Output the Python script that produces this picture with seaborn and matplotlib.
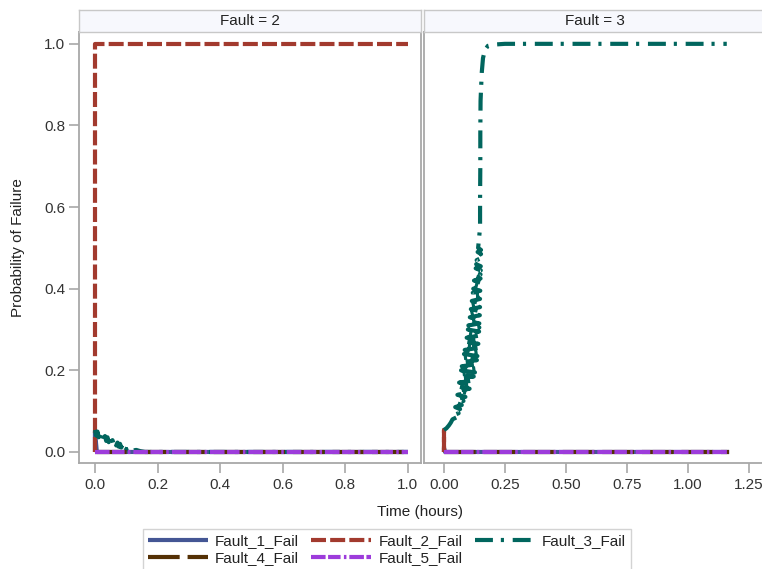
import numpy as np
import pandas as pd
import matplotlib
matplotlib.use("Agg")
import matplotlib.pyplot as plt
import seaborn as sns
from matplotlib.lines import Line2D

# ---------------- data ----------------
panels = [2, 3]
events = ["Fault_1_Fail", "Fault_2_Fail", "Fault_3_Fail", "Fault_4_Fail", "Fault_5_Fail"]

# Fault = 2 panel
p2_f1_t = [0.0, 0.0, 0.006, 1.0]
p2_f1_p = [0.0, 0.05, 0.0, 0.0]
p2_f2_t = [0.0, 0.0, 1.0]
p2_f2_p = [0.0, 1.0, 1.0]
p2_f3_t = [0.000, 0.004, 0.008, 0.012, 0.016, 0.020, 0.024, 0.028, 0.032, 0.036, 0.040,
           0.044, 0.048, 0.052, 0.056, 0.060, 0.064, 0.068, 0.072, 0.076, 0.080, 0.084,
           0.088, 0.092, 0.096, 0.100, 0.104, 0.110, 0.116, 0.124, 0.132, 0.145, 0.160, 1.0]
p2_f3_p = [0.054, 0.040, 0.050, 0.036, 0.046, 0.033, 0.042, 0.030, 0.039, 0.027, 0.036,
           0.024, 0.032, 0.021, 0.029, 0.018, 0.026, 0.016, 0.023, 0.013, 0.020, 0.011,
           0.017, 0.009, 0.014, 0.007, 0.011, 0.005, 0.008, 0.004, 0.005, 0.002, 0.0, 0.0]
p2_f4_t = [0.0, 1.0]
p2_f4_p = [0.0, 0.0]
p2_f5_t = [0.0, 1.0]
p2_f5_p = [0.0, 0.0]

# Fault = 3 panel
p3_f1_t = [0.0, 0.0, 0.004, 1.17]
p3_f1_p = [0.0, 0.01, 0.0, 0.0]
p3_f2_t = [0.0, 0.0, 0.002, 0.002]
p3_f2_p = [0.0, 0.054, 0.054, 0.0]
p3_f3_t = [0.000, 0.010, 0.020, 0.028,
           0.035, 0.052, 0.038, 0.060, 0.042, 0.066, 0.046, 0.073, 0.050, 0.080,
           0.052, 0.088, 0.055, 0.097, 0.058, 0.105, 0.060, 0.112, 0.062, 0.118,
           0.065, 0.122, 0.067, 0.127, 0.070, 0.130, 0.073, 0.133, 0.076, 0.135,
           0.079, 0.137, 0.082, 0.139, 0.085, 0.140, 0.088, 0.141, 0.090, 0.142,
           0.093, 0.143, 0.096, 0.144, 0.098, 0.145, 0.100, 0.145, 0.103, 0.146,
           0.106, 0.147, 0.108, 0.147, 0.110, 0.148, 0.112, 0.148, 0.114, 0.148,
           0.116, 0.149, 0.118, 0.149, 0.120, 0.150, 0.122, 0.150, 0.123, 0.150,
           0.125, 0.150, 0.128, 0.151, 0.130, 0.151, 0.132, 0.151, 0.134, 0.152,
           0.136, 0.152, 0.138, 0.152, 0.140,
           0.148, 0.148, 0.149, 0.149, 0.150, 0.152, 0.155, 0.160, 0.168, 0.180,
           0.200, 0.250, 0.310, 1.16]
p3_f3_p = [0.054, 0.058, 0.065, 0.072,
           0.080, 0.085, 0.090, 0.095, 0.100, 0.105, 0.110, 0.115, 0.120, 0.125,
           0.130, 0.135, 0.140, 0.145, 0.150, 0.155, 0.160, 0.165, 0.170, 0.175,
           0.180, 0.185, 0.190, 0.195, 0.200, 0.205, 0.210, 0.215, 0.220, 0.225,
           0.230, 0.235, 0.240, 0.245, 0.250, 0.255, 0.260, 0.265, 0.270, 0.275,
           0.280, 0.285, 0.290, 0.295, 0.300, 0.305, 0.310, 0.315, 0.320, 0.325,
           0.330, 0.335, 0.340, 0.345, 0.350, 0.355, 0.360, 0.365, 0.370, 0.375,
           0.380, 0.385, 0.390, 0.395, 0.400, 0.405, 0.410, 0.415, 0.420, 0.425,
           0.430, 0.435, 0.440, 0.445, 0.450, 0.455, 0.460, 0.465, 0.470, 0.475,
           0.480, 0.485, 0.490, 0.495, 0.500,
           0.550, 0.620, 0.700, 0.780, 0.860, 0.890, 0.930, 0.965, 0.985, 0.995,
           0.998, 1.0, 1.0, 1.0]
p3_f4_t = [0.0, 1.17]
p3_f4_p = [0.0, 0.0]
p3_f5_t = [0.0, 1.17]
p3_f5_p = [0.0, 0.0]

series = {
    2: [(p2_f1_t, p2_f1_p), (p2_f2_t, p2_f2_p), (p2_f3_t, p2_f3_p), (p2_f4_t, p2_f4_p), (p2_f5_t, p2_f5_p)],
    3: [(p3_f1_t, p3_f1_p), (p3_f2_t, p3_f2_p), (p3_f3_t, p3_f3_p), (p3_f4_t, p3_f4_p), (p3_f5_t, p3_f5_p)],
}

x_ticks = {2: [0.0, 0.2, 0.4, 0.6, 0.8, 1.0], 3: [0.0, 0.25, 0.5, 0.75, 1.0, 1.25]}
x_ticklabels = {2: ["0.0", "0.2", "0.4", "0.6", "0.8", "1.0"],
                3: ["0.00", "0.25", "0.50", "0.75", "1.00", "1.25"]}
y_ticks = [0.0, 0.2, 0.4, 0.6, 0.8, 1.0]
y_ticklabels = ["0.0", "0.2", "0.4", "0.6", "0.8", "1.0"]

rows = []
for f in panels:
    for ev, (ts, ps) in zip(events, series[f]):
        for i, (t, p) in enumerate(zip(ts, ps)):
            rows.append({"Fault": f, "Event": ev, "Time": t, "Prob": p, "order": i})
df = pd.DataFrame(rows)

# ---------------- style ----------------
sns.set_theme(style="white")
plt.rcParams["font.family"] = ["Liberation Sans", "DejaVu Sans"]
plt.rcParams["lines.solid_capstyle"] = "butt"
plt.rcParams["lines.dash_capstyle"] = "butt"

palette = {"Fault_1_Fail": "#445694", "Fault_2_Fail": "#A23A2E", "Fault_3_Fail": "#01665E",
           "Fault_4_Fail": "#543005", "Fault_5_Fail": "#9D3CDB"}
dashes = {"Fault_1_Fail": "", "Fault_2_Fail": (3.6, 1.0),
          "Fault_3_Fail": (4.3, 1.9, 0.75, 2.1), "Fault_4_Fail": (7.6, 1.9),
          "Fault_5_Fail": (3.5, 0.6, 3.0, 0.8, 0.6, 0.7)}
LW = 3.0

W, H = 762, 569
fig = plt.figure(figsize=(W / 100, H / 100), dpi=100)
fig.patch.set_facecolor("white")

frame_col = "#A8A8A8"
text_col = "#333333"
fs = 11

ax_pos = {2: (79, 421), 3: (424, 767)}
xlims = {2: (-0.051, 1.042), 3: (-0.082, 1.325)}
top_px, bot_px = 32, 463
strip_top = 10

for f in panels:
    x0, x1 = ax_pos[f]
    ax = fig.add_axes([x0 / W, 1 - bot_px / H, (x1 - x0) / W, (bot_px - top_px) / H])
    sub = df[df["Fault"] == f]
    sns.lineplot(data=sub, x="Time", y="Prob", hue="Event", style="Event",
                 hue_order=events, style_order=events, palette=palette, dashes=dashes,
                 estimator=None, sort=False, units="Event", linewidth=LW, ax=ax, legend=False)
    ax.set_xlim(*xlims[f])
    ax.set_ylim(-0.027, 1.029)
    ax.set_xticks(x_ticks[f])
    ax.set_xticklabels(x_ticklabels[f], fontsize=fs, color=text_col)
    ax.set_yticks(y_ticks)
    if f == 2:
        ax.set_yticklabels(y_ticklabels, fontsize=fs, color=text_col)
        ax.tick_params(axis="y", length=7, width=1.2, color=frame_col, direction="out", left=True, pad=3)
    else:
        ax.set_yticklabels([])
        ax.tick_params(axis="y", length=0)
    ax.tick_params(axis="x", length=7, width=1.2, color=frame_col, direction="out", bottom=True, pad=4)
    ax.set_xlabel("")
    ax.set_ylabel("")
    for s in ax.spines.values():
        s.set_color(frame_col)
        s.set_linewidth(1.3)
    # header strip
    sax = fig.add_axes([x0 / W, 1 - top_px / H, (x1 - x0) / W, (top_px - strip_top) / H])
    sax.set_facecolor("#F7F8FD")
    sax.set_xticks([]); sax.set_yticks([])
    for s in sax.spines.values():
        s.set_color("#C8C8C8")
        s.set_linewidth(1.0)
    sax.text((421 - 79) / 2 / (x1 - x0) if f == 3 else 0.5, 0.5, f"Fault = {f}", ha="center",
             va="center", fontsize=fs, color="#222222", transform=sax.transAxes)

fig.text(18 / W, 1 - 248 / H, "Probability of Failure", rotation=90, ha="center", va="center",
         fontsize=fs, color="#222222")
fig.text(420 / W, 1 - 512 / H, "Time (hours)", ha="center", va="center", fontsize=fs, color="#222222")

# legend
handles = {}
for ev in events:
    h = Line2D([], [], color=palette[ev], linewidth=LW)
    if dashes[ev]:
        h.set_dashes(dashes[ev])
    handles[ev] = h
order = ["Fault_1_Fail", "Fault_4_Fail", "Fault_2_Fail", "Fault_5_Fail", "Fault_3_Fail"]
leg = fig.legend([handles[e] for e in order], order, loc="upper center", ncol=3,
                 bbox_to_anchor=(387 / W, 1 - 529 / H), frameon=True, fontsize=fs,
                 handlelength=3.9, columnspacing=0.8, handletextpad=0.5, labelspacing=0.2,
                 borderpad=0.35, borderaxespad=0.0, fancybox=False)
leg.get_frame().set_edgecolor("#C8C8C8")
leg.get_frame().set_linewidth(1.0)
for t in leg.get_texts():
    t.set_color("#222222")

fig.savefig("out.png", dpi=100, facecolor="white")
